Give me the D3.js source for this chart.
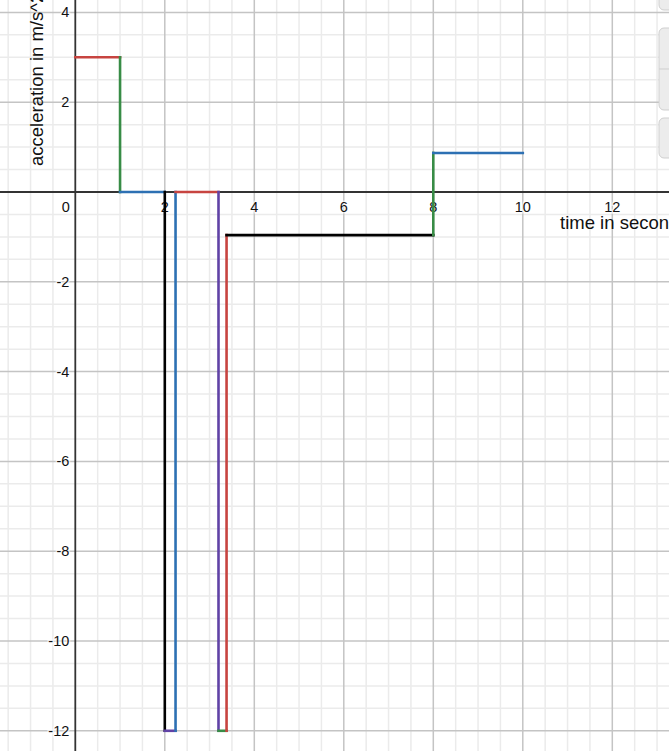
<!DOCTYPE html>
<html><head><meta charset="utf-8">
<script src="https://cdn.jsdelivr.net/npm/d3@7"></script>
<style>html,body{margin:0;padding:0;background:#fff;}svg{display:block;}</style>
</head><body>
<svg id="c" width="669" height="751"></svg>
<script>
// Data: piecewise segments of acceleration vs time
const segX1 = [0, 1, 1, 2, 2, 2.24, 2.24, 3.2, 3.2, 3.38, 3.38, 8, 8];
const segX2 = [1, 1, 2, 2, 2.24, 2.24, 3.2, 3.2, 3.38, 3.38, 8, 8, 10];
const segY1 = [3, 3, 0, 0, -12, -12, 0, 0, -12, -12, -0.96, -0.96, 0.87];
const segY2 = [3, 0, 0, -12, -12, 0, 0, -12, -12, -0.96, -0.96, 0.87, 0.87];
const segColor = ["#c74440","#388c46","#2d70b3","#000000","#6042a6","#2d70b3","#c74440","#6042a6","#388c46","#c74440","#000000","#388c46","#2d70b3"];
const xTickLabels = [2, 4, 6, 8, 10, 12];
const yTickLabels = [-12, -10, -8, -6, -4, -2, 2, 4];
const xTitle = "time in seconds";
const yTitle = "acceleration in m/s^2";

const W = 669, H = 751;
const svg = d3.select("#c");
const x = d3.scaleLinear().domain([0, 10]).range([75.3, 522.8]);
const y = d3.scaleLinear().domain([0, 4]).range([192, 12.4]);
const xMin = x.invert(0), xMax = x.invert(W), yMax = y.invert(0), yMin = y.invert(H);

const minorX = d3.range(Math.ceil(xMin*2)/2, xMax, 0.5);
const minorY = d3.range(Math.ceil(yMin*2)/2, yMax, 0.5);
const g = svg.append("g");
g.selectAll(".mx").data(minorX.filter(v => Math.abs(v/2 - Math.round(v/2)) > 1e-6)).enter().append("line")
  .attr("x1", d => x(d)).attr("x2", d => x(d)).attr("y1", 0).attr("y2", H)
  .attr("stroke", "#ebebeb").attr("stroke-width", 1.5);
g.selectAll(".my").data(minorY.filter(v => Math.abs(v/2 - Math.round(v/2)) > 1e-6)).enter().append("line")
  .attr("y1", d => y(d)).attr("y2", d => y(d)).attr("x1", 0).attr("x2", W)
  .attr("stroke", "#ebebeb").attr("stroke-width", 1.5);
const majorX = d3.range(Math.ceil(xMin/2)*2, xMax, 2).filter(v => v !== 0);
const majorY = d3.range(Math.ceil(yMin/2)*2, yMax, 2).filter(v => v !== 0);
g.selectAll(".Mx").data(majorX).enter().append("line")
  .attr("x1", d => x(d)).attr("x2", d => x(d)).attr("y1", 0).attr("y2", H)
  .attr("stroke", "#c4c4c4").attr("stroke-width", 1.5);
g.selectAll(".My").data(majorY).enter().append("line")
  .attr("y1", d => y(d)).attr("y2", d => y(d)).attr("x1", 0).attr("x2", W)
  .attr("stroke", "#c4c4c4").attr("stroke-width", 1.5);

// axes
svg.append("line").attr("x1", 0).attr("x2", W).attr("y1", y(0)).attr("y2", y(0)).attr("stroke", "#333").attr("stroke-width", 1.8);
svg.append("line").attr("y1", 0).attr("y2", H).attr("x1", x(0)).attr("x2", x(0)).attr("stroke", "#333").attr("stroke-width", 1.8);

// tick labels
const font = "Liberation Sans, Arial, sans-serif";
const tl = svg.append("g").attr("font-family", font).attr("font-size", 14.5).attr("fill", "#111");
xTickLabels.forEach(v => {
  tl.append("text").attr("x", x(v)).attr("y", y(0) + 19.5).attr("text-anchor", "middle")
    .attr("stroke", "#fff").attr("stroke-width", 3).attr("stroke-opacity", 0.6).attr("paint-order", "stroke").text(v);
});
tl.append("text").attr("x", x(0) - 9.5).attr("y", y(0) + 19.5).attr("text-anchor", "middle").text(0);
yTickLabels.forEach(v => {
  tl.append("text").attr("x", x(0) - 6).attr("y", y(v) + 5).attr("text-anchor", "end")
    .attr("stroke", "#fff").attr("stroke-width", 3).attr("stroke-opacity", 0.6).attr("paint-order", "stroke")
    .text(v < 0 ? "-" + Math.abs(v) : v);
});

// segments
svg.append("g").selectAll("line").data(segX1.map((d, i) => i)).enter().append("line")
  .attr("x1", i => x(segX1[i])).attr("x2", i => x(segX2[i]))
  .attr("y1", i => y(segY1[i])).attr("y2", i => y(segY2[i]))
  .attr("stroke", i => segColor[i]).attr("stroke-width", 2.6).attr("stroke-linecap", "square");

// axis titles
svg.append("text").attr("x", 560).attr("y", 229).attr("font-family", font).attr("font-size", 18.5).attr("fill", "#111").text(xTitle);
svg.append("text").attr("transform", `translate(42.5,166) rotate(-90)`).attr("font-family", font).attr("font-size", 18.5).attr("fill", "#111").text(yTitle);

// right-side UI widgets
const ui = svg.append("g").attr("fill", "#ececec").attr("stroke", "#cfcfcf").attr("stroke-width", 1);
ui.append("rect").attr("x", 659).attr("y", -20).attr("width", 30).attr("height", 30).attr("rx", 5);
ui.append("rect").attr("x", 659).attr("y", 28).attr("width", 30).attr("height", 82).attr("rx", 5);
ui.append("line").attr("x1", 659).attr("x2", 669).attr("y1", 69).attr("y2", 69);
ui.append("rect").attr("x", 659).attr("y", 118).attr("width", 30).attr("height", 40).attr("rx", 5);
</script>
</body></html>
